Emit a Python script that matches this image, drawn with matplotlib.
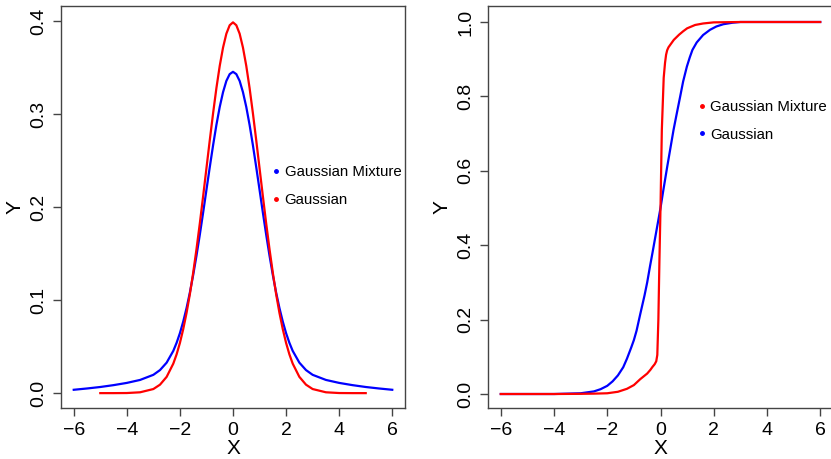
import matplotlib
matplotlib.use("Agg")
import matplotlib.pyplot as plt
from matplotlib.lines import Line2D

plt.rcParams['font.family'] = ['Liberation Sans', 'DejaVu Sans']
plt.rcParams['axes.unicode_minus'] = True

# left panel: densities
dens_x = [-6, -5.5, -5, -4.5, -4, -3.5, -3, -2.75, -2.5, -2.25, -2.125, -2, -1.875, -1.75, -1.625, -1.5,
          -1.375, -1.25, -1.125, -1, -0.875, -0.75, -0.625, -0.5, -0.375, -0.25, -0.125,
          0, 0.125, 0.25, 0.375, 0.5, 0.625, 0.75, 0.875, 1, 1.125, 1.25, 1.375, 1.5, 1.625, 1.75,
          1.875, 2, 2.125, 2.25, 2.5, 2.75, 3, 3.5, 4, 4.5, 5, 5.5, 6]
mix_pdf = [0.0036, 0.0050, 0.0066, 0.0086, 0.0110, 0.0142, 0.0197, 0.0248, 0.0328, 0.0454, 0.0541, 0.0645,
           0.0770, 0.0915, 0.1082, 0.1271, 0.1480, 0.1705, 0.1943, 0.2188, 0.2432, 0.2667, 0.2886, 0.3079,
           0.3238, 0.3359, 0.3432, 0.3457, 0.3432, 0.3359, 0.3238, 0.3079, 0.2886, 0.2667, 0.2432, 0.2188,
           0.1943, 0.1705, 0.1480, 0.1271, 0.1082, 0.0915, 0.0770, 0.0645, 0.0541, 0.0454, 0.0328, 0.0248,
           0.0197, 0.0142, 0.0110, 0.0086, 0.0066, 0.0050, 0.0036]
norm_x = [-5, -4.5, -4, -3.5, -3, -2.75, -2.5, -2.25, -2.125, -2, -1.875, -1.75, -1.625, -1.5, -1.375,
          -1.25, -1.125, -1, -0.875, -0.75, -0.625, -0.5, -0.375, -0.25, -0.125,
          0, 0.125, 0.25, 0.375, 0.5, 0.625, 0.75, 0.875, 1, 1.125, 1.25, 1.375, 1.5, 1.625, 1.75,
          1.875, 2, 2.125, 2.25, 2.5, 2.75, 3, 3.5, 4, 4.5, 5]
norm_pdf = [0.0, 0.0, 0.0001, 0.0009, 0.0044, 0.0091, 0.0175, 0.0317, 0.0417, 0.0540, 0.0689, 0.0863,
            0.1065, 0.1295, 0.1550, 0.1826, 0.2119, 0.2420, 0.2721, 0.3011, 0.3282, 0.3521, 0.3718,
            0.3867, 0.3958, 0.3989, 0.3958, 0.3867, 0.3718, 0.3521, 0.3282, 0.3011, 0.2721, 0.2420,
            0.2119, 0.1826, 0.1550, 0.1295, 0.1065, 0.0863, 0.0689, 0.0540, 0.0417, 0.0317, 0.0175,
            0.0091, 0.0044, 0.0009, 0.0001, 0.0, 0.0]

# right panel: cumulative curves
mixcdf_x = [-6, -4, -3, -2.5, -2, -1.6, -1.26, -1.0, -0.76, -0.5, -0.38, -0.3, -0.22, -0.16, -0.12,
            -0.08, -0.04, 0.0, 0.05, 0.12, 0.17, 0.21, 0.25, 0.3, 0.5, 0.7, 0.85, 1.0, 1.3, 1.6, 2.0, 3, 4, 6]
mixcdf_y = [0, 0, 0.0005, 0.001, 0.002, 0.006, 0.014, 0.024, 0.040, 0.055, 0.065, 0.073, 0.080, 0.088,
            0.105, 0.20, 0.36, 0.50, 0.71, 0.85, 0.89, 0.912, 0.924, 0.932, 0.952, 0.966, 0.975, 0.983,
            0.992, 0.996, 0.999, 1.0, 1.0, 1.0]
gcdf_x = [-6, -4, -3, -2.5, -2.25, -2, -1.8, -1.6, -1.4, -1.26, -1.1, -1.0, -0.9, -0.76, -0.6, -0.5,
          -0.39, -0.3, -0.2, -0.1, 0, 0.1, 0.25, 0.37, 0.49, 0.6, 0.74, 0.85, 0.99, 1.1, 1.2, 1.36,
          1.6, 1.86, 2.1, 2.36, 2.7, 3, 4, 6]
gcdf_y = [0, 0, 0.002, 0.007, 0.013, 0.022, 0.034, 0.050, 0.072, 0.095, 0.125, 0.145, 0.170, 0.215,
          0.265, 0.300, 0.345, 0.380, 0.420, 0.460, 0.500, 0.545, 0.610, 0.660, 0.710, 0.750, 0.800,
          0.840, 0.880, 0.905, 0.925, 0.945, 0.965, 0.979, 0.988, 0.994, 0.998, 1.0, 1.0, 1.0]

x_ticks = [-6, -4, -2, 0, 2, 4, 6]
left_yticks = [0.0, 0.1, 0.2, 0.3, 0.4]
right_yticks = [0.0, 0.2, 0.4, 0.6, 0.8, 1.0]

W, H = 831, 459
fig = plt.figure(figsize=(W / 100, H / 100), dpi=100)
ax1 = fig.add_axes([61 / W, 1 - 408 / H, 344 / W, 402 / H])
ax2 = fig.add_axes([488 / W, 1 - 408 / H, 345 / W, 402 / H])


def style(ax, yticks):
    ax.set_xlim(-6.48, 6.48)
    ax.set_xticks(x_ticks)
    ax.set_yticks(yticks)
    ax.set_yticklabels([f"{v:.1f}" for v in yticks], rotation=90, va='center')
    for s in ax.spines.values():
        s.set_color('#444444')
        s.set_linewidth(1.0)
    ax.tick_params(length=6, width=1.0, color='#444444', labelsize=14)
    ax.tick_params(axis='x', pad=4)
    ax.tick_params(axis='y', pad=4)
    ax.set_xlabel("X", fontsize=15, labelpad=0)
    ax.set_ylabel("Y", fontsize=15, labelpad=4)


ax1.plot(dens_x, mix_pdf, color='blue', lw=1.6)
ax1.plot(norm_x, norm_pdf, color='red', lw=1.6)
ax1.set_ylim(-0.016, 0.4165)
style(ax1, left_yticks)

ax2.plot(gcdf_x, gcdf_y, color='blue', lw=1.6)
ax2.plot(mixcdf_x, mixcdf_y, color='red', lw=1.6)
ax2.set_ylim(-0.0376, 1.043)
style(ax2, right_yticks)


def dot(c, lab):
    return Line2D([], [], color=c, marker='o', ms=2.5, ls='none', label=lab)


ax1.legend(handles=[dot('blue', 'Gaussian Mixture'), dot('red', 'Gaussian')],
           loc='center left', bbox_to_anchor=(0.615, 0.552), frameon=False, fontsize=10.8,
           handlelength=0.5, handletextpad=0.3, labelspacing=0.9, borderpad=0, borderaxespad=0)
ax2.legend(handles=[dot('red', 'Gaussian Mixture'), dot('blue', 'Gaussian')],
           loc='center left', bbox_to_anchor=(0.61, 0.714), frameon=False, fontsize=10.8,
           handlelength=0.5, handletextpad=0.3, labelspacing=0.9, borderpad=0, borderaxespad=0)

fig.savefig("out.png", dpi=100)
